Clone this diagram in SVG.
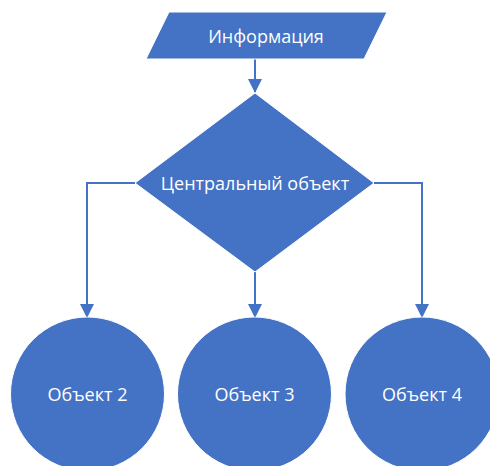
<svg xmlns="http://www.w3.org/2000/svg" width="490" height="466" viewBox="0 0 490 466">
<defs>
<marker id="arr" markerWidth="14" markerHeight="14" refX="13" refY="7" orient="auto" markerUnits="userSpaceOnUse" viewBox="0 0 14 14">
<path d="M0,0 L14,7 L0,14 Z" fill="#4472C4"/>
</marker>
</defs>
<style>
.shape{fill:#4472C4;stroke:#ffffff;stroke-width:1}
.lbl{fill:#ffffff;font-family:"Open Sans","Liberation Sans",sans-serif;font-size:18px;text-anchor:middle;dominant-baseline:central}
.conn{fill:none;stroke:#4472C4;stroke-width:2;marker-end:url(#arr)}
</style>
<rect width="490" height="466" fill="#ffffff"/>
<g id="connectors">
<path class="conn" d="M255,59 L255,92"/>
<path class="conn" d="M135,183 L87,183 L87,317"/>
<path class="conn" d="M255,272 L255,317"/>
<path class="conn" d="M374,183 L422,183 L422,317"/>
</g>
<g id="info">
<polygon class="shape" points="169,12 387,12 364,59 146,59"/>
<text class="lbl" x="266" y="36">Информация</text>
</g>
<g id="central">
<polygon class="shape" points="255,93 374,183 255,272 135,183"/>
<text class="lbl" x="255" y="183">Центральный объект</text>
</g>
<g id="obj2">
<circle class="shape" cx="87.5" cy="394" r="77"/>
<text class="lbl" x="87.5" y="394">Объект 2</text>
</g>
<g id="obj3">
<circle class="shape" cx="254.5" cy="394" r="77"/>
<text class="lbl" x="254.5" y="394">Объект 3</text>
</g>
<g id="obj4">
<circle class="shape" cx="422" cy="394" r="77"/>
<text class="lbl" x="422" y="394">Объект 4</text>
</g>
</svg>
